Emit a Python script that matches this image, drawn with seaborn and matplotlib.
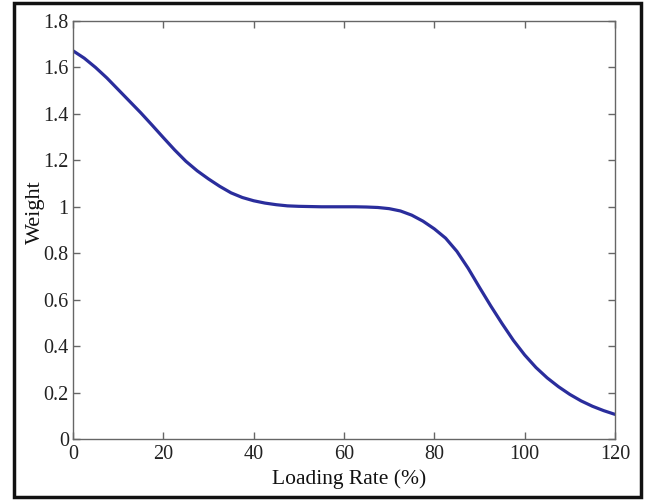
import matplotlib
matplotlib.use("Agg")
import matplotlib.pyplot as plt
import seaborn as sns
import pandas as pd
from matplotlib.patches import Rectangle

# valeurs
loading_rate = [0, 2.5, 5, 7.5, 10, 12.5, 15, 17.5, 20, 22.5, 25, 27.5, 30,
                32.5, 35, 37.5, 40, 42.5, 45, 47.5, 50, 52.5, 55, 57.5, 60,
                62.5, 65, 67.5, 70, 72.5, 75, 77.5, 80, 82.5, 85, 87.5, 90,
                92.5, 95, 97.5, 100, 102.5, 105, 107.5, 110, 112.5, 115,
                117.5, 120]
weight = [1.672, 1.640, 1.600, 1.555, 1.505, 1.455, 1.405, 1.352, 1.298,
          1.245, 1.196, 1.155, 1.120, 1.088, 1.060, 1.040, 1.026, 1.016,
          1.009, 1.004, 1.002, 1.001, 1.000, 1.000, 1.000, 1.000, 0.999,
          0.997, 0.992, 0.982, 0.964, 0.938, 0.905, 0.865, 0.808, 0.735,
          0.653, 0.573, 0.497, 0.425, 0.362, 0.308, 0.263, 0.225, 0.192,
          0.164, 0.141, 0.122, 0.106]
x_ticks = [0, 20, 40, 60, 80, 100, 120]
y_ticks = [0, 0.2, 0.4, 0.6, 0.8, 1.0, 1.2, 1.4, 1.6, 1.8]
y_tick_labels = ["0", "0.2", "0.4", "0.6", "0.8", "1", "1.2", "1.4", "1.6", "1.8"]

data = pd.DataFrame({"Loading Rate (%)": loading_rate, "Weight": weight})

sns.set_style("white")
plt.rcParams["font.family"] = ["Liberation Serif", "DejaVu Serif"]

fig = plt.figure(figsize=(6.47, 5.01), dpi=100)
ax = fig.add_axes([0.1128, 0.1238, 0.8377, 0.8342])

sns.lineplot(data=data, x="Loading Rate (%)", y="Weight", ax=ax,
             color="#2a2d9c", linewidth=2.3)

ax.set_xlim(0, 120)
ax.set_ylim(0, 1.8)
ax.set_xticks(x_ticks)
ax.set_yticks(y_ticks)
ax.set_yticklabels(y_tick_labels)
ax.tick_params(direction="in", length=5, width=1, color="#666666",
               labelsize=14.5, labelcolor="#222222", top=True, right=True,
               bottom=True, left=True, pad=4)
ax.tick_params(axis="y", pad=3)
for spine in ax.spines.values():
    spine.set_color("#666666")
    spine.set_linewidth(1.0)
ax.set_xlabel("Loading Rate (%)", fontsize=15.5, color="#111111")
ax.set_ylabel("Weight", fontsize=16, color="#111111")
ax.xaxis.set_label_coords(0.509, -0.072)
ax.yaxis.set_label_coords(-0.051, 0.543)

# cadre noir autour de la figure
fig.patches.append(Rectangle((0.0216, 0.008), 0.9691, 0.986,
                             transform=fig.transFigure, fill=False,
                             edgecolor="#111111", linewidth=2.5))

fig.savefig("out.png", dpi=100)
